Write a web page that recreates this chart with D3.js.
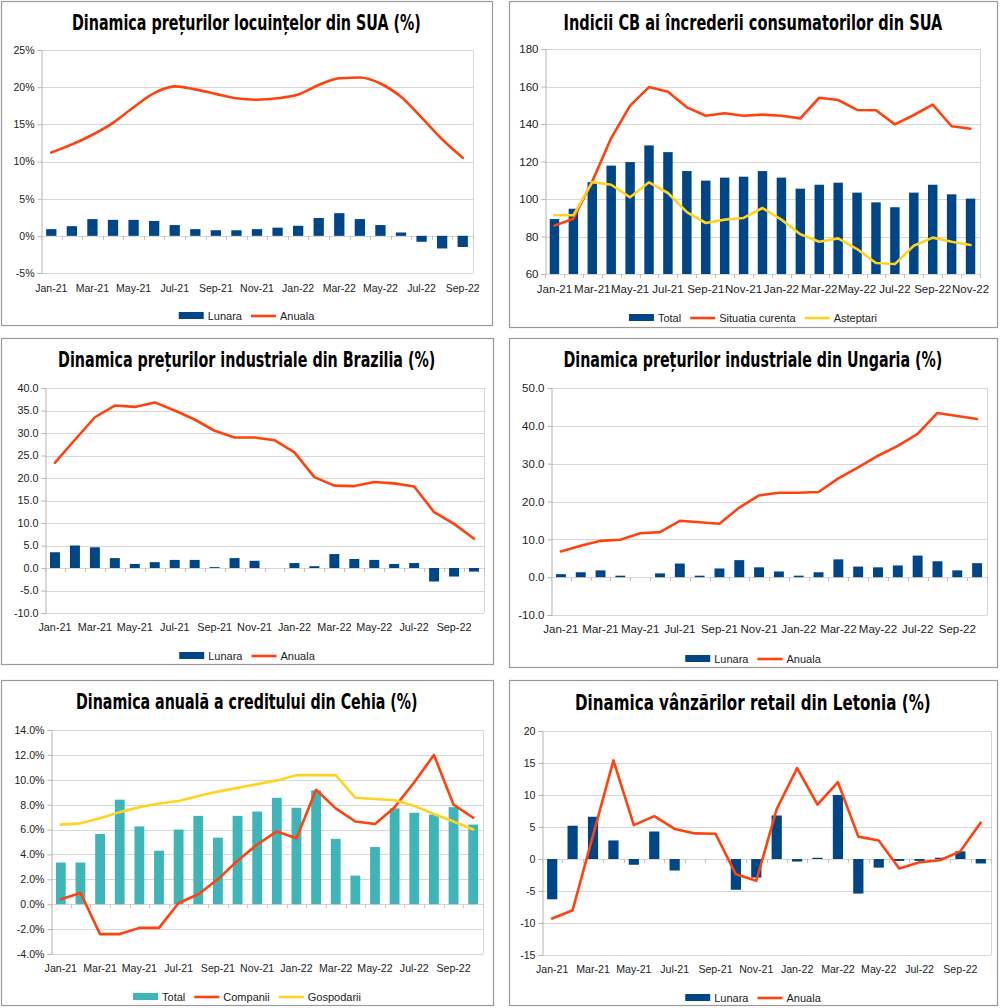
<!DOCTYPE html>
<html lang="ro">
<head>
<meta charset="UTF-8">
<title>Dinamica indicatorilor</title>
<script src="https://d3js.org/d3.v7.min.js"></script>
<style>
  body { margin: 0; background: #fff; }
  svg { display: block; }
  .lbl { font-family: "Liberation Sans", Arial, sans-serif; fill: #222; }
  .title { font-family: "DejaVu Sans Condensed", "DejaVu Sans", sans-serif; font-weight: bold; font-size: 21px; fill: #000; }
  .legend { font-family: "Liberation Sans", Arial, sans-serif; font-size: 11px; fill: #222; }
</style>
</head>
<body>
<svg width="1000" height="1008"></svg>
<script>
// months, Jan-21 .. Nov-22
const months = ["Jan-21","Feb-21","Mar-21","Apr-21","May-21","Jun-21","Jul-21","Aug-21","Sep-21","Oct-21","Nov-21","Dec-21",
                "Jan-22","Feb-22","Mar-22","Apr-22","May-22","Jun-22","Jul-22","Aug-22","Sep-22","Oct-22","Nov-22"];

// SUA - preturi locuinte (%)
const usaLunara = [0.9,1.3,2.25,2.15,2.15,2.0,1.45,0.9,0.75,0.75,0.9,1.1,1.35,2.4,3.05,2.25,1.45,0.45,-0.8,-1.7,-1.5];
const usaAnuala = [11.2,12.3,13.6,15.2,17.3,19.2,20.1,19.7,19.1,18.5,18.3,18.5,19.0,20.3,21.2,21.3,20.5,18.7,15.9,13.0,10.5];
const usaTicks = [-5,0,5,10,15,20,25];

// SUA - indicii CB
const cbTotal = [89.3,94.8,109,117.8,119.7,128.6,125,114.9,109.8,111.4,111.9,114.9,111.4,105.5,107.6,108.7,103.4,98.2,95.6,103.4,107.6,102.5,100.2];
const cbSituatia = [85.8,89.5,109.4,132.5,149.8,159.7,157.2,148.9,144.4,145.7,144.4,145,144.4,143,154,152.8,147.5,147.3,139.8,144.8,150.3,138.8,137.5];
const cbAsteptari = [91.3,91.3,109,107.6,100.9,108.9,103.2,93,87.2,89,89.9,95.2,89,81.2,77.2,79,73.3,65.9,65.3,75.1,79.4,77.2,75.5];
const cbTicks = [60,80,100,120,140,160,180];

// Brazilia - preturi industriale
const brLunara = [3.5,5.0,4.6,2.2,0.9,1.3,1.8,1.8,0.2,2.2,1.6,0.0,1.1,0.4,3.1,2.0,1.8,0.9,1.1,-3.0,-1.9,-0.8];
const brAnuala = [23.4,28.5,33.5,36.1,35.8,36.8,35.0,33.0,30.5,29.0,29.0,28.4,25.7,20.2,18.3,18.2,19.1,18.8,18.1,12.4,9.8,6.5];
const brTicks = [-10,-5,0,5,10,15,20,25,30,35,40];

// Ungaria - preturi industriale
const huLunara = [0.8,1.3,1.8,0.4,0.0,1.0,3.6,0.4,2.3,4.5,2.6,1.5,0.4,1.3,4.7,2.8,2.6,3.1,5.7,4.2,1.8,3.7];
const huAnuala = [6.8,8.3,9.6,9.9,11.6,11.9,14.9,14.5,14.1,18.4,21.6,22.3,22.3,22.5,26.1,29.0,32.1,34.7,37.9,43.4,42.6,41.8];
const huTicks = [-10,0,10,20,30,40,50];

// Cehia - credit (%)
const czTotal = [3.35,3.35,5.65,8.4,6.25,4.3,6.0,7.1,5.35,7.1,7.45,8.55,7.75,9.15,5.25,2.3,4.6,7.7,7.35,7.2,7.8,6.4];
const czCompanii = [0.4,0.9,-2.4,-2.4,-1.9,-1.9,0.1,0.8,2.0,3.5,4.8,5.85,5.3,9.2,7.7,6.65,6.45,7.8,9.8,12.0,8.0,6.95];
const czGospodarii = [6.4,6.5,6.9,7.4,7.8,8.1,8.3,8.7,9.05,9.35,9.65,9.95,10.37,10.37,10.37,8.55,8.45,8.35,7.9,7.25,6.65,6.0];
const czTicks = [-4,-2,0,2,4,6,8,10,12,14];

// Letonia - vanzari retail
const lvLunara = [-6.3,5.2,6.6,2.9,-0.9,4.3,-1.8,0,0,-4.8,-2.9,6.8,-0.4,0.2,10.0,-5.4,-1.35,-0.3,-0.3,0.2,1.2,-0.7];
const lvAnuala = [-9.3,-8.0,3.7,15.4,5.3,6.7,4.7,4.0,3.95,-2.4,-3.4,7.8,14.2,8.5,12.0,3.5,2.9,-1.5,-0.5,-0.2,1.2,5.7];
const lvTicks = [-15,-10,-5,0,5,10,15,20];

const BLUE = "#004586", ORANGE = "#ff420e", YELLOW = "#ffd320", TEAL = "#3fb5b9";

const loc = d3.formatLocale({decimal: ".", thousands: ",", grouping: [3], currency: ["", ""], minus: "-"});
const svg = d3.select("svg");

function drawPanel(p) {
  const g = svg.append("g");
  const [bx0, by0, bx1, by1] = p.box;
  g.append("rect")
    .attr("x", bx0 + 0.5).attr("y", by0 + 0.5)
    .attr("width", bx1 - bx0).attr("height", by1 - by0)
    .attr("fill", "#fff").attr("stroke", "#9a9a9a").attr("stroke-width", 1.2);

  // title: squeeze to the width seen in the picture
  const tt = g.append("text").attr("class", "title").attr("x", 0).attr("y", 0).text(p.title);
  const tw = tt.node().getComputedTextLength();
  tt.attr("transform", `translate(${(bx0 + bx1) / 2 - p.titleW / 2},${p.titleY}) scale(${p.titleW / tw},1)`);

  const [px0, py0, px1, py1] = p.plot;
  const cats = months.slice(0, p.n);
  const x = d3.scaleBand().domain(cats).range([px0, px1]);
  const y = d3.scaleLinear().domain(d3.extent(p.ticks)).range([py1, py0]);
  const bw = x.bandwidth() * 0.5;
  const cx = d => x(d) + x.bandwidth() / 2;

  // grid
  g.append("g").selectAll("line").data(p.ticks).join("line")
    .attr("x1", px0).attr("x2", px1)
    .attr("y1", d => Math.round(y(d)) + 0.5).attr("y2", d => Math.round(y(d)) + 0.5)
    .attr("stroke", "#d6d6d6");
  g.append("line").attr("x1", px1 + 0.5).attr("x2", px1 + 0.5).attr("y1", py0).attr("y2", py1)
    .attr("stroke", "#d6d6d6");

  // y axis
  const ya = g.append("g").attr("transform", `translate(${px0 + 0.5},0)`)
    .call(d3.axisLeft(y).tickValues(p.ticks).tickSize(4).tickPadding(3).tickFormat(p.fmt));
  ya.select(".domain").attr("stroke", "#b3b3b3");
  ya.selectAll(".tick line").attr("stroke", "#b3b3b3");
  ya.selectAll("text").attr("class", "lbl").attr("fill", null).attr("font-family", null)
    .attr("font-size", p.fs + "px");

  // category ticks on the base line
  const base = y.domain()[0] < 0 ? y(0) : py1;
  const bounds = d3.range(p.n + 1).map(i => px0 + i * x.step());
  g.append("g").selectAll("line").data(bounds).join("line")
    .attr("x1", d => Math.round(d) + 0.5).attr("x2", d => Math.round(d) + 0.5)
    .attr("y1", base).attr("y2", base + 4)
    .attr("stroke", p.tickColor || "#c0c0c0");

  // category labels, every second month
  g.append("g").selectAll("text").data(cats.filter((d, i) => i % 2 === 0)).join("text")
    .attr("class", "lbl").attr("font-size", p.fs + "px")
    .attr("x", cx).attr("y", p.labelY)
    .attr("text-anchor", "middle")
    .text(d => d);

  // bars
  const barS = p.series.filter(s => s.type === "bar")[0];
  const y0 = y(Math.max(0, y.domain()[0]));
  g.append("g").selectAll("rect").data(barS.values).join("rect")
    .attr("x", (d, i) => cx(cats[i]) - bw / 2)
    .attr("width", bw)
    .attr("y", d => Math.min(y(d), y0))
    .attr("height", d => Math.abs(y(d) - y0))
    .attr("fill", barS.color);

  // lines
  p.series.filter(s => s.type === "line").forEach(s => {
    const line = d3.line().x((d, i) => cx(cats[i])).y(d => y(d)).curve(s.curve || d3.curveLinear);
    g.append("path").datum(s.values)
      .attr("d", line).attr("fill", "none")
      .attr("stroke", s.color).attr("stroke-width", 2.6)
      .attr("stroke-linejoin", "round").attr("stroke-linecap", "round");
  });

  // legend
  const lg = g.append("g");
  let off = 0;
  p.series.forEach(s => {
    if (s.type === "bar") {
      lg.append("rect").attr("x", off).attr("y", -4).attr("width", 25).attr("height", 7).attr("fill", s.color);
    } else {
      lg.append("line").attr("x1", off).attr("x2", off + 25).attr("y1", 0).attr("y2", 0)
        .attr("stroke", s.color).attr("stroke-width", 2.6);
    }
    const t = lg.append("text").attr("class", "legend").attr("x", off + 29).attr("y", 4).text(s.name);
    off += 29 + t.node().getComputedTextLength() + 9;
  });
  off -= 9;
  lg.attr("transform", `translate(${(bx0 + bx1) / 2 - off / 2},${p.legendY})`);
}

const pctInt = d => loc.format("d")(d) + "%";
const pct1 = d => loc.format(".1f")(d) + "%";

drawPanel({
  box: [1, 1, 492, 325], title: "Dinamica prețurilor locuințelor din SUA (%)", titleY: 30, titleW: 349,
  plot: [41, 50, 473, 273], n: 21, ticks: usaTicks, fmt: pctInt, labelY: 292, legendY: 316, fs: 10.5,
  series: [
    {name: "Lunara", type: "bar", values: usaLunara, color: BLUE},
    {name: "Anuala", type: "line", values: usaAnuala, color: ORANGE, curve: d3.curveMonotoneX}
  ]
});

drawPanel({
  box: [509, 1, 997, 327], title: "Indicii CB ai încrederii consumatorilor din SUA", titleY: 30, titleW: 379,
  plot: [545, 49, 980, 274], n: 23, ticks: cbTicks, fmt: loc.format("d"), labelY: 293, legendY: 318, fs: 11.5,
  series: [
    {name: "Total", type: "bar", values: cbTotal, color: BLUE},
    {name: "Situatia curenta", type: "line", values: cbSituatia, color: ORANGE},
    {name: "Asteptari", type: "line", values: cbAsteptari, color: YELLOW}
  ]
});

drawPanel({
  box: [1, 338, 493, 664], title: "Dinamica prețurilor industriale din Brazilia (%)", titleY: 367, titleW: 378,
  plot: [45, 388, 484, 613], n: 22, ticks: brTicks, fmt: loc.format(".1f"), labelY: 631, legendY: 656, fs: 10.8,
  series: [
    {name: "Lunara", type: "bar", values: brLunara, color: BLUE},
    {name: "Anuala", type: "line", values: brAnuala, color: ORANGE}
  ]
});

drawPanel({
  box: [509, 338, 997, 667], title: "Dinamica prețurilor industriale din Ungaria (%)", titleY: 367, titleW: 379,
  plot: [551, 388, 987, 615], n: 22, ticks: huTicks, fmt: loc.format(".1f"), labelY: 633, legendY: 659, fs: 11.5,
  series: [
    {name: "Lunara", type: "bar", values: huLunara, color: BLUE},
    {name: "Anuala", type: "line", values: huAnuala, color: ORANGE}
  ]
});

drawPanel({
  box: [1, 680, 493, 1005], title: "Dinamica anuală a creditului din Cehia (%)", titleY: 709, titleW: 342,
  plot: [51, 730, 483, 954], n: 22, ticks: czTicks, fmt: pct1, labelY: 972, legendY: 997, fs: 10.6,
  tickColor: "#f0b8a8",
  series: [
    {name: "Total", type: "bar", values: czTotal, color: TEAL},
    {name: "Companii", type: "line", values: czCompanii, color: ORANGE},
    {name: "Gospodarii", type: "line", values: czGospodarii, color: YELLOW}
  ]
});

drawPanel({
  box: [509, 680, 997, 1005], title: "Dinamica vânzărilor retail din Letonia (%)", titleY: 710, titleW: 356,
  plot: [542, 731, 991, 955], n: 22, ticks: lvTicks, fmt: loc.format("d"), labelY: 973, legendY: 998, fs: 10.6,
  series: [
    {name: "Lunara", type: "bar", values: lvLunara, color: BLUE},
    {name: "Anuala", type: "line", values: lvAnuala, color: ORANGE}
  ]
});
</script>
</body>
</html>
